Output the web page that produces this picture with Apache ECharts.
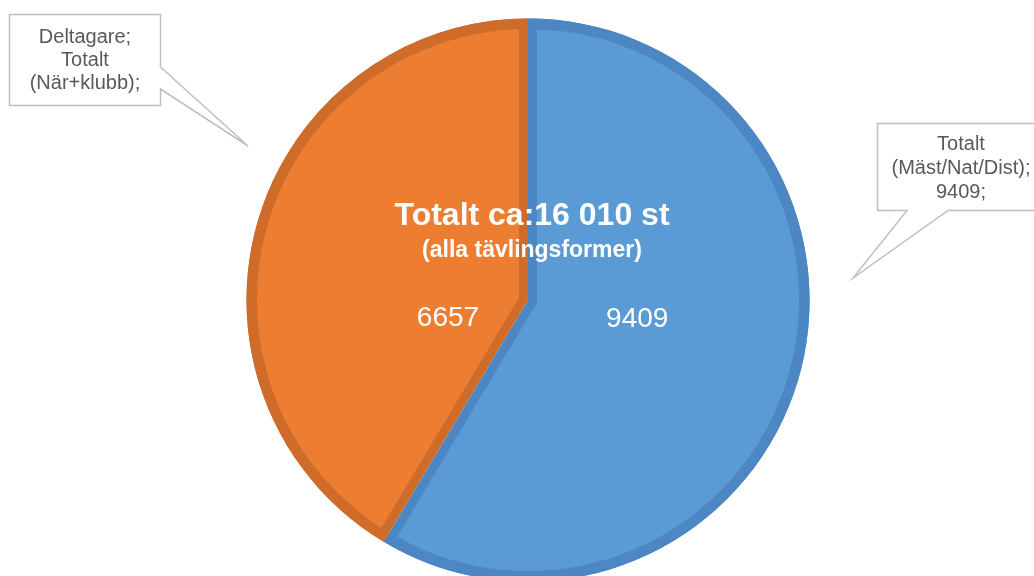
<!DOCTYPE html>
<html>
<head>
<meta charset="utf-8">
<script src="https://cdn.jsdelivr.net/npm/echarts@6/dist/echarts.min.js"></script>
<style>
html,body{margin:0;padding:0;background:#fff;}
#chart{width:1034px;height:576px;}
</style>
</head>
<body>
<div id="chart"></div>
<script>
// ---- data ----
const seriesName = 'Deltagare';
const categories = ['Totalt (Mäst/Nat/Dist)', 'Totalt (När+klubb)'];
const values = [9409, 6657];
const lightColors = ['#5B9BD5', '#ED7D31'];
const darkColors = ['#4C87C3', '#CF6C2A'];
const centerTitle = 'Totalt ca:16 010 st';
const centerSubtitle = '(alla tävlingsformer)';
const calloutLeftText = seriesName + ';\nTotalt\n(När+klubb);';
const calloutRightText = 'Totalt\n(Mäst/Nat/Dist);\n' + values[0] + ';';

const FONT = '"Liberation Sans", Arial, sans-serif';
const cx = 528, cy = 300, R = 281.5, RING = 271;

function baseData(colors) {
  return categories.map((c, i) => ({ name: c, value: values[i], itemStyle: { color: colors[i] } }));
}
function singleData(idx) {
  return categories.map((c, i) => i === idx
    ? { name: c, value: values[i], itemStyle: { color: lightColors[i] } }
    : { name: c, value: values[i], itemStyle: { color: 'rgba(0,0,0,0)' }, label: { show: false } });
}

const chart = echarts.init(document.getElementById('chart'), null, { renderer: 'canvas' });
const common = { type: 'pie', startAngle: 90, clockwise: true, silent: true, animation: false,
  emphasis: { disabled: true }, labelLine: { show: false } };

chart.setOption({
  animation: false,
  backgroundColor: '#ffffff',
  series: [
    Object.assign({}, common, { name: seriesName, center: [cx, cy], radius: R,
      label: { show: false }, data: baseData(darkColors) }),
    // blue light (inset)
    Object.assign({}, common, { center: [537.0, 302.5], radius: 272.5,
      label: { show: true, position: 'inside', formatter: '{c}', color: '#fff', fontSize: 28, fontFamily: FONT },
      labelLayout: { dx: -34, dy: -20 },
      data: singleData(0) }),
    // orange light (inset)
    Object.assign({}, common, { center: [519.0, 297.5], radius: 270,
      label: { show: true, position: 'inside', formatter: '{c}', color: '#fff', fontSize: 28, fontFamily: FONT },
      labelLayout: { dx: 62, dy: 57 },
      data: singleData(1) }),
    // outer dark ring
    Object.assign({}, common, { center: [cx, cy], radius: [RING, R],
      label: { show: false }, data: baseData(darkColors) })
  ],
  graphic: [
    { type: 'text', z: 100, style: { text: centerTitle, x: 532, y: 216, align: 'center', verticalAlign: 'middle',
        fill: '#fff', font: 'bold 32px ' + FONT } },
    { type: 'text', z: 100, style: { text: centerSubtitle, x: 532, y: 251, align: 'center', verticalAlign: 'middle',
        fill: '#fff', font: 'bold 23px ' + FONT } },
    { type: 'polygon', z: 100, shape: { points: [[9.5,14.5],[160.5,14.5],[160.5,67],[248,146],[160.5,89],[160.5,105.5],[9.5,105.5]] },
      style: { fill: '#fff', stroke: '#BFBFBF', lineWidth: 1.5 } },
    { type: 'text', z: 101, style: { text: calloutLeftText, x: 85, y: 60, align: 'center', verticalAlign: 'middle',
        fill: '#595959', font: '20px ' + FONT, lineHeight: 23 } },
    { type: 'polygon', z: 100, shape: { points: [[877.5,123.5],[1045,123.5],[1045,210.5],[948,210.5],[853,278],[907,210.5],[877.5,210.5]] },
      style: { fill: '#fff', stroke: '#BFBFBF', lineWidth: 1.5 } },
    { type: 'text', z: 101, style: { text: calloutRightText, x: 961, y: 168, align: 'center', verticalAlign: 'middle',
        fill: '#595959', font: '20px ' + FONT, lineHeight: 24 } }
  ]
});
</script>
</body>
</html>
